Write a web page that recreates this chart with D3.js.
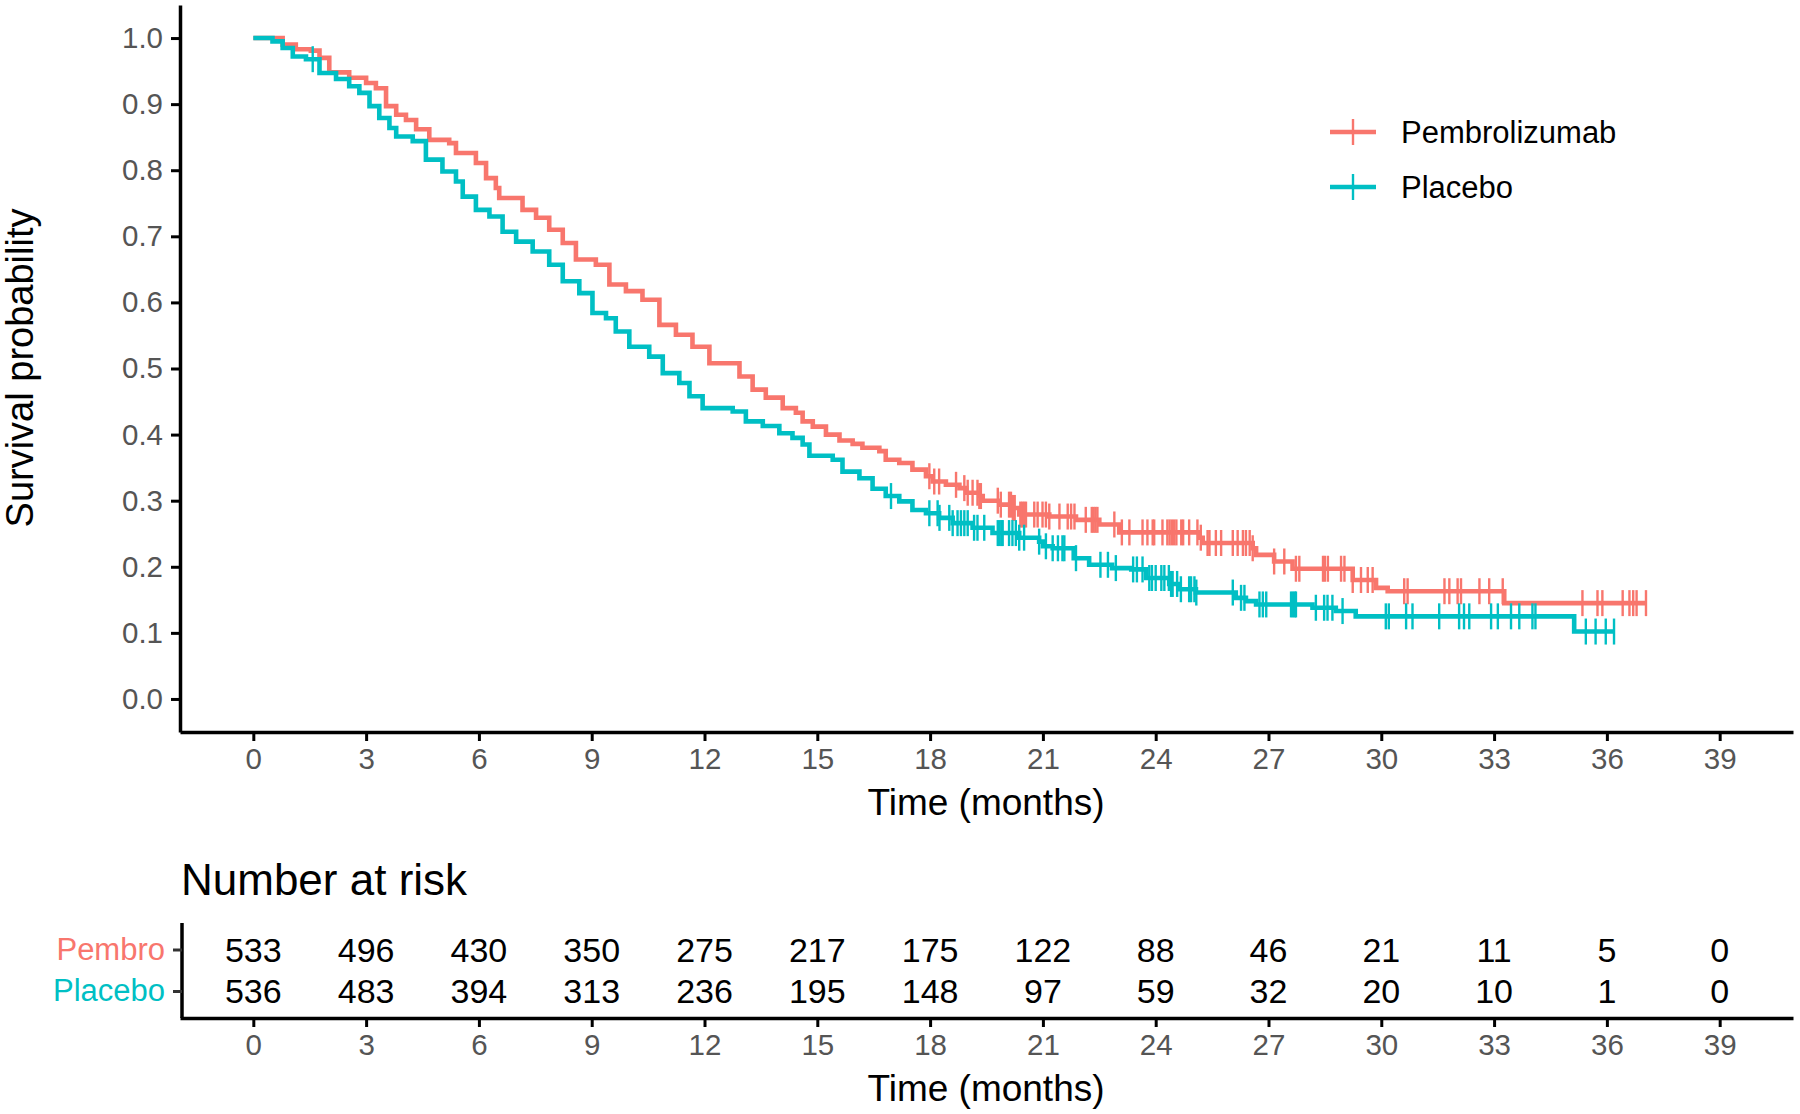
<!DOCTYPE html>
<html>
<head>
<meta charset="utf-8">
<script src="https://cdn.jsdelivr.net/npm/d3@7"></script>
<style>
  body { margin: 0; background: #fff; }
  svg { display: block; font-family: "Liberation Sans", Arial, sans-serif; }
</style>
</head>
<body>
<svg id="chart" width="1800" height="1114"></svg>
<script>
// Kaplan-Meier step data (months, survival probability)
var pembroTimes = [0, 0.78, 1.13, 1.53, 1.76, 2.02, 2.55, 3.0, 3.26, 3.53, 3.8, 4.06, 4.33, 4.68, 5.21, 5.39, 5.92, 6.19, 6.45, 6.54, 7.16, 7.52, 7.87, 8.23, 8.58, 9.11, 9.47, 9.91, 10.35, 10.8, 11.24, 11.68, 12.13, 12.93, 13.28, 13.63, 14.08, 14.43, 14.61, 14.88, 15.23, 15.59, 15.94, 16.2, 16.65, 16.82, 17.18, 17.53, 17.89, 18.07, 18.42, 18.78, 18.96, 19.31, 19.4, 19.84, 20.2, 20.37, 21.17, 21.88, 22.5, 23.03, 25.16, 25.25, 26.58, 26.67, 27.15, 27.64, 29.24, 29.86, 30.17, 33.27];
var pembroSurv = [1.0, 0.99, 0.983, 0.981, 0.970, 0.948, 0.940, 0.932, 0.924, 0.897, 0.884, 0.876, 0.862, 0.846, 0.841, 0.826, 0.811, 0.788, 0.773, 0.758, 0.740, 0.728, 0.710, 0.690, 0.665, 0.657, 0.627, 0.617, 0.604, 0.566, 0.551, 0.533, 0.508, 0.488, 0.468, 0.456, 0.440, 0.433, 0.420, 0.412, 0.400, 0.391, 0.386, 0.380, 0.375, 0.362, 0.357, 0.347, 0.337, 0.329, 0.324, 0.319, 0.312, 0.307, 0.300, 0.294, 0.289, 0.279, 0.276, 0.271, 0.264, 0.252, 0.244, 0.236, 0.228, 0.218, 0.208, 0.197, 0.180, 0.168, 0.163, 0.145];
var pembroCensor = [17.98, 18.11, 18.24, 18.69, 18.91, 19.0, 19.13, 19.26, 19.31, 19.35, 19.8, 19.88, 20.1, 20.15, 20.2, 20.25, 20.4, 20.45, 20.5, 20.55, 20.77, 20.86, 20.99, 21.08, 21.17, 21.44, 21.66, 21.75, 21.84, 22.14, 22.3, 22.35, 22.4, 22.45, 22.9, 23.1, 23.3, 23.65, 23.78, 23.92, 23.96, 24.18, 24.31, 24.37, 24.43, 24.49, 24.55, 24.68, 24.73, 24.89, 25.11, 25.2, 25.38, 25.43, 25.6, 25.74, 26.05, 26.18, 26.32, 26.4, 26.5, 26.58, 27.15, 27.42, 27.73, 27.82, 28.45, 28.5, 28.58, 28.93, 29.02, 29.24, 29.46, 29.64, 29.77, 30.61, 30.7, 31.68, 31.81, 32.03, 32.12, 32.61, 32.87, 33.23, 35.35, 35.75, 35.88, 36.42, 36.6, 36.7, 36.79, 37.04];

var placeboTimes = [0, 0.51, 0.78, 1.05, 1.4, 1.76, 2.2, 2.55, 2.82, 3.09, 3.35, 3.62, 3.8, 4.24, 4.59, 5.03, 5.39, 5.57, 5.92, 6.28, 6.63, 6.99, 7.43, 7.87, 8.23, 8.67, 9.02, 9.38, 9.64, 10.0, 10.53, 10.89, 11.33, 11.6, 11.95, 12.75, 13.1, 13.55, 13.99, 14.34, 14.61, 14.79, 15.41, 15.67, 16.12, 16.47, 16.82, 17.18, 17.53, 17.89, 18.24, 18.6, 19.13, 19.66, 20.37, 20.9, 21.0, 21.26, 21.82, 22.23, 22.84, 23.35, 23.75, 24.36, 24.63, 25.07, 26.13, 26.4, 26.67, 28.17, 28.79, 29.32, 35.13];
var placeboSurv = [1.0, 0.995, 0.985, 0.972, 0.968, 0.947, 0.938, 0.927, 0.917, 0.897, 0.879, 0.864, 0.851, 0.844, 0.816, 0.798, 0.783, 0.760, 0.740, 0.730, 0.707, 0.692, 0.677, 0.657, 0.632, 0.614, 0.584, 0.576, 0.556, 0.533, 0.518, 0.493, 0.478, 0.458, 0.440, 0.435, 0.420, 0.413, 0.402, 0.395, 0.385, 0.368, 0.362, 0.344, 0.334, 0.318, 0.307, 0.299, 0.286, 0.281, 0.274, 0.266, 0.259, 0.251, 0.244, 0.238, 0.231, 0.228, 0.213, 0.203, 0.198, 0.196, 0.183, 0.174, 0.166, 0.161, 0.153, 0.148, 0.143, 0.138, 0.133, 0.125, 0.102];
var placeboCensor = [1.58, 16.96, 17.98, 18.2, 18.25, 18.51, 18.6, 18.73, 18.82, 18.91, 19.0, 19.17, 19.26, 19.44, 19.8, 19.85, 19.9, 19.93, 20.1, 20.19, 20.28, 20.37, 20.5, 20.9, 21.08, 21.26, 21.4, 21.52, 21.57, 21.88, 22.53, 22.73, 22.94, 23.4, 23.5, 23.65, 23.83, 23.9, 24.0, 24.15, 24.23, 24.35, 24.41, 24.45, 24.57, 24.67, 24.89, 24.94, 25.03, 25.08, 26.05, 26.27, 26.36, 26.76, 26.85, 26.94, 27.6, 27.65, 27.7, 27.73, 28.26, 28.48, 28.57, 28.7, 28.97, 30.12, 30.2, 30.66, 30.83, 31.54, 32.07, 32.2, 32.34, 32.92, 33.1, 33.45, 33.67, 34.02, 34.1, 35.44, 35.7, 35.97, 36.19];

// Number at risk table
var riskTimes = [0, 3, 6, 9, 12, 15, 18, 21, 24, 27, 30, 33, 36, 39];
var pembroRisk = [533, 496, 430, 350, 275, 217, 175, 122, 88, 46, 21, 11, 5, 0];
var placeboRisk = [536, 483, 394, 313, 236, 195, 148, 97, 59, 32, 20, 10, 1, 0];

var groupNames = ['Pembrolizumab', 'Placebo'];
var riskLabels = ['Pembro', 'Placebo'];
var colors = ['#F8766D', '#00BFC4'];
var yTicks = [0, 0.1, 0.2, 0.3, 0.4, 0.5, 0.6, 0.7, 0.8, 0.9, 1.0];
var xTicks = [0, 3, 6, 9, 12, 15, 18, 21, 24, 27, 30, 33, 36, 39];

var svg = d3.select('#chart');
var FONT = '"Liberation Sans", Arial, sans-serif';

var x = d3.scaleLinear().domain([-1.95, 40.95]).range([180, 1793]);
var y = d3.scaleLinear().domain([-0.05, 1.05]).range([732, 5]);

function styleAxis(g, fontSize) {
  g.select('.domain').attr('stroke', '#000').attr('stroke-width', 3.5);
  g.selectAll('.tick line').attr('stroke', '#000').attr('stroke-width', 3);
  g.selectAll('.tick text').attr('fill', '#555')
    .style('font-size', fontSize + 'px').style('font-family', FONT);
}

// main axes
var gx = svg.append('g').attr('transform', 'translate(0,732)')
  .call(d3.axisBottom(x).tickValues(xTicks).tickSize(9).tickPadding(7).tickSizeOuter(0));
styleAxis(gx, 29.5);

var gy = svg.append('g').attr('transform', 'translate(180,0)')
  .call(d3.axisLeft(y).tickValues(yTicks).tickFormat(d3.format('.1f')).tickSize(9).tickPadding(8).tickSizeOuter(0));
styleAxis(gy, 29.5);

svg.append('text').attr('x', 986).attr('y', 815).attr('text-anchor', 'middle')
  .style('font-size', '37px').style('font-family', FONT).text('Time (months)');
svg.append('text').attr('transform', 'translate(33,368) rotate(-90)').attr('text-anchor', 'middle')
  .style('font-size', '38px').style('font-family', FONT).text('Survival probability');

// curves
function survAt(times, surv, t) {
  var i = d3.bisectRight(times, t) - 1;
  return surv[Math.max(0, i)];
}

var line = d3.line().curve(d3.curveStepAfter)
  .x(function(d) { return x(d[0]); })
  .y(function(d) { return y(d[1]); });

var groups = [
  { times: pembroTimes, surv: pembroSurv, censor: pembroCensor },
  { times: placeboTimes, surv: placeboSurv, censor: placeboCensor }
];

groups.forEach(function(g, gi) {
  var pts = g.times.map(function(t, i) { return [t, g.surv[i]]; });
  var tEnd = d3.max(g.censor);
  pts.push([tEnd, g.surv[g.surv.length - 1]]);
  svg.append('path').datum(pts)
    .attr('d', line)
    .attr('fill', 'none')
    .attr('stroke', colors[gi])
    .attr('stroke-width', 4.6);

  svg.append('g').selectAll('line')
    .data(g.censor)
    .enter()
    .append('line')
    .attr('x1', function(d) { return x(d); })
    .attr('x2', function(d) { return x(d); })
    .attr('y1', function(d) { return y(survAt(g.times, g.surv, d)) - 13; })
    .attr('y2', function(d) { return y(survAt(g.times, g.surv, d)) + 13; })
    .attr('stroke', colors[gi])
    .attr('stroke-width', 2.4);
});

// legend
var legend = svg.append('g').attr('transform', 'translate(1330,132)');
groupNames.forEach(function(name, i) {
  var row = legend.append('g').attr('transform', 'translate(0,' + (i * 55) + ')');
  row.append('line').attr('x1', 0).attr('x2', 46).attr('y1', 0).attr('y2', 0)
    .attr('stroke', colors[i]).attr('stroke-width', 4.6);
  row.append('line').attr('x1', 23).attr('x2', 23).attr('y1', -13).attr('y2', 13)
    .attr('stroke', colors[i]).attr('stroke-width', 2.4);
  row.append('text').attr('x', 71).attr('y', 0).attr('dy', '0.35em')
    .style('font-size', '31px').style('font-family', FONT).text(name);
});

// risk table
svg.append('text').attr('x', 181).attr('y', 895)
  .style('font-size', '44px').style('font-family', FONT).text('Number at risk');

var yr = d3.scalePoint().domain(riskLabels).range([949.5, 991]);

var grx = svg.append('g').attr('transform', 'translate(0,1018)')
  .call(d3.axisBottom(x).tickValues(xTicks).tickSize(9).tickPadding(7).tickSizeOuter(0));
styleAxis(grx, 29.5);

var gry = svg.append('g').attr('transform', 'translate(182,0)')
  .call(d3.axisLeft(yr).tickSize(9).tickPadding(8).tickSizeOuter(0));
gry.select('.domain').attr('d', 'M0,923V1018').attr('stroke', '#000').attr('stroke-width', 3.5);
gry.selectAll('.tick line').attr('stroke', '#333').attr('stroke-width', 3);
gry.selectAll('.tick text')
  .attr('fill', function(d, i) { return colors[i]; })
  .style('font-size', '31px').style('font-family', FONT);

svg.append('text').attr('x', 986).attr('y', 1101).attr('text-anchor', 'middle')
  .style('font-size', '37px').style('font-family', FONT).text('Time (months)');

[pembroRisk, placeboRisk].forEach(function(vals, gi) {
  svg.append('g').selectAll('text')
    .data(vals)
    .enter()
    .append('text')
    .attr('x', function(d, i) { return x(riskTimes[i]); })
    .attr('y', yr(riskLabels[gi]))
    .attr('dy', '0.36em')
    .attr('text-anchor', 'middle')
    .style('font-size', '34px').style('font-family', FONT)
    .text(function(d) { return d; });
});
</script>
</body>
</html>
